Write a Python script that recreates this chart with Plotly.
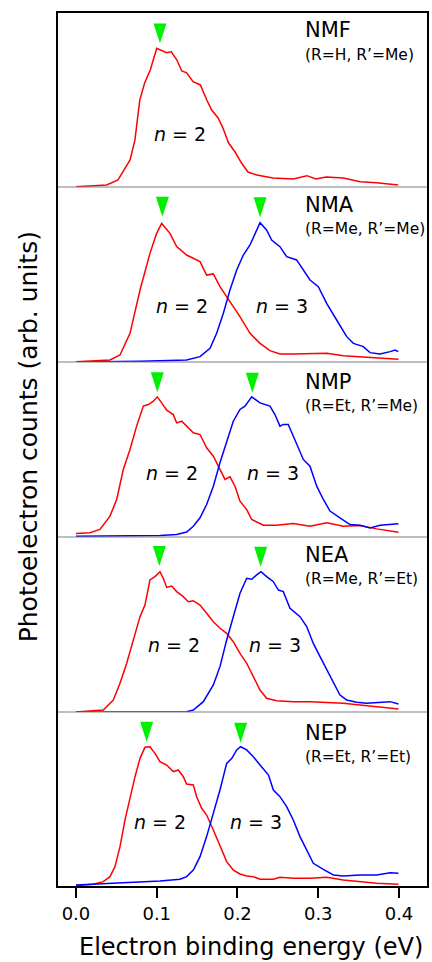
import plotly.graph_objects as go
from plotly.subplots import make_subplots

# ---------------- data ----------------
molecules = ["NMF", "NMA", "NMP", "NEA", "NEP"]
substituents = ["(R=H, R\u2019=Me)", "(R=Me, R\u2019=Me)", "(R=Et, R\u2019=Me)",
                "(R=Me, R\u2019=Et)", "(R=Et, R\u2019=Et)"]

# NMF, n = 2
nmf_n2_e = [0.000, 0.038, 0.052, 0.067, 0.073, 0.079, 0.085, 0.092, 0.100, 0.112, 0.118, 0.125,
            0.131, 0.137, 0.145, 0.154, 0.162, 0.168, 0.176, 0.182, 0.189, 0.197, 0.205, 0.213,
            0.224, 0.244, 0.269, 0.286, 0.297, 0.310, 0.331, 0.352, 0.372, 0.399]
nmf_n2_i = [0.002, 0.014, 0.050, 0.193, 0.336, 0.621, 0.743, 0.836, 0.991, 0.959, 0.966, 0.907,
            0.829, 0.816, 0.752, 0.729, 0.621, 0.550, 0.493, 0.421, 0.314, 0.250, 0.171, 0.107,
            0.086, 0.064, 0.057, 0.081, 0.057, 0.071, 0.064, 0.038, 0.031, 0.014]

# NMA
nma_n2_e = [0.000, 0.042, 0.0545, 0.0669, 0.0793, 0.0916, 0.0999, 0.1061, 0.1164, 0.1247, 0.137,
            0.1536, 0.1618, 0.1701, 0.1783, 0.1907, 0.203, 0.2155, 0.2279, 0.2402, 0.2526, 0.2691,
            0.2898, 0.3105, 0.331, 0.3517, 0.3724, 0.3993]
nma_n2_i = [0.002, 0.014, 0.050, 0.205, 0.514, 0.776, 0.919, 0.990, 0.919, 0.824, 0.764, 0.717,
            0.621, 0.629, 0.538, 0.431, 0.324, 0.205, 0.133, 0.081, 0.057, 0.057, 0.057, 0.062,
            0.045, 0.038, 0.026, 0.019]
nma_n3_e = [0.000, 0.080, 0.137, 0.1536, 0.166, 0.1742, 0.1825, 0.1907, 0.199, 0.2072, 0.2155,
            0.2217, 0.2279, 0.236, 0.2423, 0.2526, 0.2609, 0.2732, 0.2815, 0.2898, 0.3001, 0.3104,
            0.3228, 0.3352, 0.3435, 0.3558, 0.3641, 0.3765, 0.389, 0.395, 0.399]
nma_n3_i = [0.000, 0.005, 0.014, 0.038, 0.098, 0.205, 0.348, 0.514, 0.657, 0.764, 0.836, 0.919,
            0.995, 0.943, 0.871, 0.824, 0.752, 0.729, 0.657, 0.586, 0.538, 0.419, 0.300, 0.181,
            0.133, 0.110, 0.067, 0.057, 0.074, 0.086, 0.074]

# NMP
nmp_n2_e = [0.000, 0.0173, 0.0297, 0.0421, 0.0504, 0.0586, 0.0669, 0.0751, 0.0834, 0.0896, 0.0958,
            0.1007, 0.1061, 0.1123, 0.1205, 0.1247, 0.1309, 0.137, 0.1453, 0.1536, 0.1618, 0.1701,
            0.1783, 0.1845, 0.1907, 0.1969, 0.2031, 0.2114, 0.2176, 0.2238, 0.232, 0.2485, 0.2691,
            0.2898, 0.3105, 0.331, 0.3517, 0.3724, 0.393, 0.3993]
nmp_n2_i = [0.025, 0.030, 0.054, 0.149, 0.268, 0.482, 0.625, 0.792, 0.935, 0.946, 0.970, 1.001,
            0.958, 0.906, 0.875, 0.815, 0.827, 0.792, 0.744, 0.732, 0.637, 0.577, 0.482, 0.411,
            0.430, 0.363, 0.256, 0.196, 0.125, 0.106, 0.084, 0.084, 0.096, 0.077, 0.101, 0.077,
            0.082, 0.058, 0.042, 0.034]
nmp_n3_e = [0.000, 0.104, 0.1247, 0.137, 0.1453, 0.1536, 0.1618, 0.1701, 0.1783, 0.1866, 0.1948,
            0.2031, 0.2093, 0.2176, 0.2279, 0.2402, 0.2464, 0.2526, 0.2567, 0.2629, 0.2691, 0.2753,
            0.2815, 0.2898, 0.2981, 0.3063, 0.3146, 0.3269, 0.3393, 0.3517, 0.3641, 0.3765, 0.3889,
            0.3993]
nmp_n3_i = [0.006, 0.011, 0.018, 0.035, 0.077, 0.137, 0.232, 0.363, 0.530, 0.685, 0.827, 0.911,
            0.935, 1.001, 0.958, 0.935, 0.875, 0.792, 0.804, 0.804, 0.720, 0.649, 0.554, 0.506,
            0.363, 0.268, 0.185, 0.137, 0.089, 0.084, 0.065, 0.084, 0.089, 0.094]

# NEA
nea_n2_e = [0.000, 0.0338, 0.0462, 0.0545, 0.0628, 0.071, 0.0793, 0.0854, 0.0916, 0.0978, 0.104,
            0.1081, 0.1123, 0.1185, 0.1247, 0.1329, 0.1391, 0.1453, 0.1536, 0.1618, 0.1701, 0.1783,
            0.1866, 0.1948, 0.2031, 0.2114, 0.2196, 0.2279, 0.2361, 0.2485, 0.2691, 0.2898, 0.3105,
            0.331, 0.3517, 0.3724, 0.3993]
nea_n2_i = [0.000, 0.014, 0.086, 0.205, 0.348, 0.514, 0.681, 0.764, 0.943, 0.967, 1.002, 0.955,
            0.890, 0.900, 0.860, 0.824, 0.788, 0.795, 0.764, 0.705, 0.645, 0.598, 0.562, 0.502,
            0.419, 0.348, 0.252, 0.157, 0.098, 0.081, 0.074, 0.074, 0.067, 0.062, 0.050, 0.038,
            0.021]
nea_n3_e = [0.000, 0.137, 0.1453, 0.1577, 0.1701, 0.1783, 0.1866, 0.1948, 0.2031, 0.2114, 0.2176,
            0.2238, 0.2291, 0.2361, 0.2444, 0.2507, 0.2567, 0.265, 0.2774, 0.2857, 0.2939, 0.3022,
            0.3105, 0.3187, 0.3269, 0.3352, 0.3476, 0.360, 0.3724, 0.3889, 0.3993]
nea_n3_i = [0.000, 0.002, 0.014, 0.074, 0.193, 0.324, 0.514, 0.681, 0.848, 0.955, 0.948, 0.979,
            1.002, 0.967, 0.931, 0.871, 0.860, 0.740, 0.681, 0.610, 0.490, 0.395, 0.300, 0.217,
            0.121, 0.086, 0.069, 0.062, 0.067, 0.074, 0.057]

# NEP
nep_n2_e = [0.000, 0.0215, 0.0338, 0.0421, 0.0483, 0.0545, 0.0607, 0.0669, 0.0731, 0.0793, 0.0854,
            0.0916, 0.0978, 0.104, 0.1123, 0.1205, 0.1267, 0.1329, 0.137, 0.1453, 0.1494, 0.1556,
            0.1618, 0.1701, 0.1783, 0.1866, 0.1948, 0.2031, 0.2114, 0.2196, 0.2279, 0.2444, 0.2526,
            0.2691, 0.2898, 0.3105, 0.331, 0.3517, 0.3724, 0.3993]
nep_n2_i = [0.0095, 0.019, 0.038, 0.074, 0.145, 0.288, 0.479, 0.645, 0.788, 0.919, 0.998, 1.002,
            0.955, 0.895, 0.871, 0.824, 0.836, 0.788, 0.736, 0.729, 0.645, 0.562, 0.514, 0.407,
            0.288, 0.181, 0.121, 0.093, 0.079, 0.074, 0.055, 0.055, 0.069, 0.062, 0.062, 0.069,
            0.050, 0.038, 0.026, 0.019]
nep_n3_e = [0.000, 0.0421, 0.0834, 0.104, 0.1288, 0.137, 0.1453, 0.1536, 0.1618, 0.1701, 0.1783,
            0.1866, 0.193, 0.199, 0.2039, 0.2114, 0.2196, 0.2279, 0.2384, 0.2444, 0.2526, 0.2609,
            0.2691, 0.2774, 0.2857, 0.2939, 0.3063, 0.3187, 0.331, 0.3517, 0.3724, 0.3889, 0.3993]
nep_n3_i = [0.014, 0.026, 0.036, 0.043, 0.055, 0.074, 0.121, 0.217, 0.360, 0.526, 0.693, 0.883,
            0.919, 0.979, 1.002, 0.979, 0.931, 0.871, 0.800, 0.693, 0.645, 0.574, 0.479, 0.360,
            0.264, 0.169, 0.126, 0.086, 0.079, 0.086, 0.086, 0.102, 0.098]

n2_spectra = [(nmf_n2_e, nmf_n2_i), (nma_n2_e, nma_n2_i), (nmp_n2_e, nmp_n2_i),
              (nea_n2_e, nea_n2_i), (nep_n2_e, nep_n2_i)]
n3_spectra = [None, (nma_n3_e, nma_n3_i), (nmp_n3_e, nmp_n3_i),
              (nea_n3_e, nea_n3_i), (nep_n3_e, nep_n3_i)]

# peak markers (green triangles): energy of peak, height of marker tip
n2_peak_e = [0.104, 0.107, 0.1007, 0.1032, 0.0875]
n2_peak_y = [1.026, 1.038, 1.034, 1.043, 1.038]
n3_peak_e = [None, 0.228, 0.2184, 0.2287, 0.2039]
n3_peak_y = [None, 1.034, 1.030, 1.038, 1.031]

# "n = 2" / "n = 3" label positions
n2_label_e = [0.1284, 0.1307, 0.1195, 0.1214, 0.1046]
n3_label_e = [None, 0.2557, 0.2440, 0.2464, 0.2223]
n_label_y = [0.379, 0.400, 0.457, 0.479, 0.466]
name_label_y = [1.121, 1.121, 1.104, 1.118, 1.100]
sub_label_y = [0.943, 0.950, 0.936, 0.950, 0.929]

x_ticks = [0.0, 0.1, 0.2, 0.3, 0.4]
x_range = [-0.0235, 0.4359]
y_range = [0.0, 1.25]

# ---------------- figure ----------------
FONT = "DejaVu Sans"
RED = "#ff0000"
BLUE = "#0000ff"
GREEN = "#00f000"

fig = make_subplots(rows=5, cols=1, shared_xaxes=True, vertical_spacing=0)

for k in range(5):
    row = k + 1
    e2, i2 = n2_spectra[k]
    fig.add_trace(go.Scatter(x=e2, y=i2, mode="lines", line=dict(color=RED, width=1.5),
                             showlegend=False, hoverinfo="skip"), row=row, col=1)
    if n3_spectra[k] is not None:
        e3, i3 = n3_spectra[k]
        fig.add_trace(go.Scatter(x=e3, y=i3, mode="lines", line=dict(color=BLUE, width=1.5),
                                 showlegend=False, hoverinfo="skip"), row=row, col=1)
    pe = [n2_peak_e[k]] + ([n3_peak_e[k]] if n3_peak_e[k] is not None else [])
    py = [n2_peak_y[k]] + ([n3_peak_y[k]] if n3_peak_y[k] is not None else [])
    fig.add_trace(go.Scatter(x=pe, y=py, mode="markers",
                             marker=dict(symbol="arrow", angle=180, size=21, color=GREEN,
                                         line=dict(width=0)),
                             showlegend=False, hoverinfo="skip"), row=row, col=1)

    xr = "x" if row == 1 else f"x{row}"
    yr = "y" if row == 1 else f"y{row}"
    fig.add_annotation(x=0.281, y=name_label_y[k], xref=xr, yref=yr, text=molecules[k],
                       showarrow=False, xanchor="left", yanchor="middle",
                       font=dict(family=FONT, size=21, color="black"))
    fig.add_annotation(x=0.281, y=sub_label_y[k], xref=xr, yref=yr, text=substituents[k],
                       showarrow=False, xanchor="left", yanchor="middle",
                       font=dict(family=FONT, size=15.5, color="black"))
    fig.add_annotation(x=n2_label_e[k], y=n_label_y[k], xref=xr, yref=yr, text="<i>n</i> = 2",
                       showarrow=False, xanchor="center", yanchor="middle",
                       font=dict(family=FONT, size=19, color="black"))
    if n3_label_e[k] is not None:
        fig.add_annotation(x=n3_label_e[k], y=n_label_y[k], xref=xr, yref=yr,
                           text="<i>n</i> = 3", showarrow=False, xanchor="center",
                           yanchor="middle", font=dict(family=FONT, size=19, color="black"))

    fig.update_yaxes(range=y_range, showticklabels=False, showgrid=False, zeroline=False,
                     ticks="", showline=False, row=row, col=1)
    fig.update_xaxes(range=x_range, showgrid=False, zeroline=False, row=row, col=1,
                     showticklabels=(row == 5), ticks=("outside" if row == 5 else ""),
                     tickvals=x_ticks, tickformat=".1f", ticklen=10, tickwidth=2,
                     tickcolor="black", showline=False,
                     tickfont=dict(family=FONT, size=18, color="black"))

# panel separators
for k in range(1, 5):
    fig.add_shape(type="line", xref="paper", yref="paper", x0=0, x1=1, y0=k / 5, y1=k / 5,
                  line=dict(color="#7f7f7f", width=1))
# outer frame
fig.add_shape(type="rect", xref="paper", yref="paper", x0=0, x1=1, y0=0, y1=1,
              line=dict(color="black", width=2))

fig.add_annotation(x=0.524, y=-0.0686, xref="paper", yref="paper",
                   text="Electron binding energy (eV)", showarrow=False,
                   xanchor="center", yanchor="middle",
                   font=dict(family=FONT, size=24, color="black"))
fig.add_annotation(x=-0.078, y=0.514, xref="paper", yref="paper",
                   text="Photoelectron counts (arb. units)", showarrow=False, textangle=-90,
                   xanchor="center", yanchor="middle",
                   font=dict(family=FONT, size=25, color="black"))

fig.update_layout(width=432, height=962, margin=dict(l=57, r=4, t=12, b=75),
                  plot_bgcolor="white", paper_bgcolor="white",
                  font=dict(family=FONT, color="black"))

fig.write_html("out.html", config={"displayModeBar": False},
               post_script="document.body.style.margin='0';document.body.style.overflow='hidden';")
